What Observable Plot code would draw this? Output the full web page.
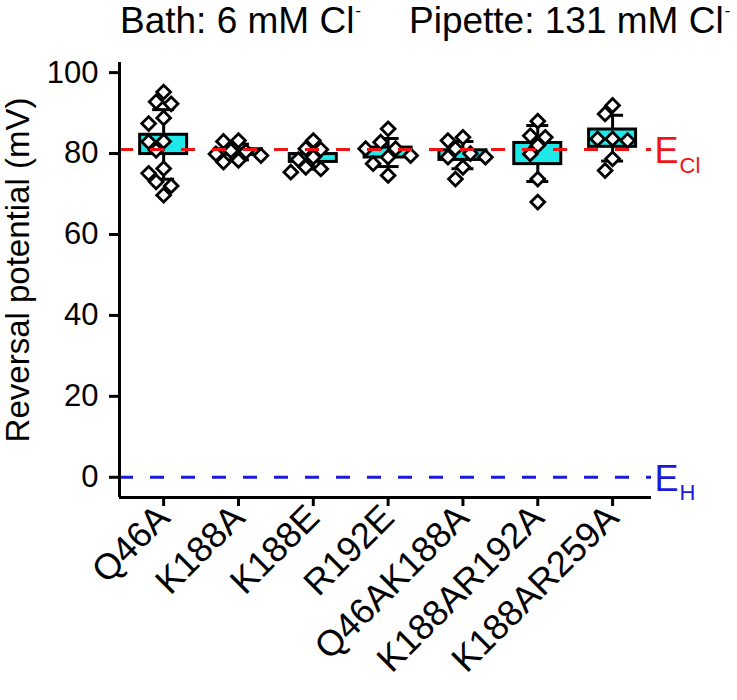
<!DOCTYPE html>
<html><head><meta charset="utf-8">
<script src="https://cdn.jsdelivr.net/npm/d3@7"></script>
<script src="https://cdn.jsdelivr.net/npm/@observablehq/plot@0.6"></script>
<style>
body{margin:0;background:#fff;font-family:"Liberation Sans",Arial,sans-serif;}
#title{position:relative;width:737px;height:45px;font-size:37px;color:#000;}
#title span{position:absolute;top:2px;white-space:nowrap;line-height:1;}
#title sup{font-size:0.45em;line-height:0;vertical-align:1.05em;margin-left:1px;}
</style></head>
<body>
<div id="title"><span style="left:120px">Bath: 6 mM Cl<sup>-</sup></span><span style="left:409px">Pipette: 131 mM Cl<sup>-</sup></span></div>
<div id="chart"></div>
<script>
// ---- data ----
const categories = ["Q46A","K188A","K188E","R192E","Q46AK188A","K188AR192A","K188AR259A"];
const q46a       = [95.2, 92.8, 92.3, 88.8, 87.4, 83.0, 82.9, 80.8, 76.3, 75.1, 73.0, 72.0, 69.7];
const k188a      = [83.2, 83.0, 80.7, 80.5, 79.9, 79.5, 78.3, 77.9];
const k188e      = [83.2, 81.2, 81.0, 79.1, 78.5, 76.6, 76.2, 75.4];
const r192e      = [86.1, 82.8, 81.2, 81.2, 79.5, 79.1, 77.5, 74.6];
const q46ak188a  = [84.0, 83.2, 81.2, 80.0, 79.1, 79.1, 76.6, 73.7];
const k188ar192a = [88.0, 84.4, 84.0, 82.0, 79.9, 73.7, 68.0];
const k188ar259a = [91.9, 89.8, 83.6, 83.6, 83.2, 78.7, 75.8];
const yTicks = [0, 20, 40, 60, 80, 100];
const E_Cl = 81;
const E_H = 0;

// ---- layout ----
const W = 737, H = 655, mL = 119, mR = 86, mT = 17, mB = 203;
const xDomain = [-0.59, 6.52], yDomain = [-5, 102.5];
const pxX = (W - mL - mR) / (xDomain[1] - xDomain[0]);
const pxY = (H - mT - mB) / (yDomain[1] - yDomain[0]);
const red = "#f01414", blue = "#1a1ad8", cyan = "#1fe8e8";

const seriesList = [q46a, k188a, k188e, r192e, q46ak188a, k188ar192a, k188ar259a];

// stats: mean, SD, SEM
const stats = seriesList.map((vals, i) => {
  const mean = d3.mean(vals), sd = d3.deviation(vals);
  return {i, mean, sd, sem: sd / Math.sqrt(vals.length)};
});

// simple beeswarm (diamond L1 distance) in pixel space
const slotPx = 7.5, minDist = 15;
const points = [];
seriesList.forEach((vals, i) => {
  const placed = [];
  const order = [0, -1, 1, -2, 2, -3, 3, -4, 4];
  [...vals].sort((a, b) => b - a).forEach(v => {
    let chosen = 0;
    for (const k of order) {
      const ok = placed.every(p => Math.abs(p.k - k) * slotPx + Math.abs(p.v - v) * pxY >= minDist);
      if (ok) { chosen = k; break; }
    }
    placed.push({k: chosen, v});
    points.push({x: i + chosen * slotPx / pxX, y: v});
  });
});

const capHalf = 11 / pxX, boxHalf = 23.5 / pxX;

const chart = Plot.plot({
  width: W, height: H,
  marginLeft: mL, marginRight: mR, marginTop: mT, marginBottom: mB,
  style: {fontFamily: "'Liberation Sans', Arial, sans-serif", background: "white", overflow: "visible", color: "black"},
  x: {type: "linear", domain: xDomain},
  y: {domain: yDomain},
  marks: [
    // whiskers (mean ± SD)
    Plot.ruleX(stats, {x: "i", y1: d => d.mean - d.sd, y2: d => d.mean + d.sd, stroke: "black", strokeWidth: 3}),
    Plot.ruleY(stats, {y: d => d.mean + d.sd, x1: d => d.i - capHalf, x2: d => d.i + capHalf, stroke: "black", strokeWidth: 3}),
    Plot.ruleY(stats, {y: d => d.mean - d.sd, x1: d => d.i - capHalf, x2: d => d.i + capHalf, stroke: "black", strokeWidth: 3}),
    // box (mean ± SEM)
    Plot.rect(stats, {x1: d => d.i - boxHalf, x2: d => d.i + boxHalf, y1: d => d.mean - d.sem, y2: d => d.mean + d.sem, fill: cyan, stroke: "black", strokeWidth: 3}),
    // individual points
    Plot.dot(points, {x: "x", y: "y", symbol: "diamond2", r: 6.2, fill: "white", stroke: "black", strokeWidth: 2.8}),
    // reference lines
    Plot.ruleY([E_Cl], {stroke: red, strokeWidth: 3, strokeDasharray: "14,17"}),
    Plot.ruleY([E_H], {stroke: blue, strokeWidth: 3, strokeDasharray: "14,17"}),
    Plot.text([E_Cl], {y: d => d, frameAnchor: "right", text: () => "E", textAnchor: "start", dx: 3, dy: 2, fill: red, fontSize: 36}),
    Plot.text([E_Cl], {y: d => d, frameAnchor: "right", text: () => "Cl", textAnchor: "start", dx: 28, dy: 16, fill: red, fontSize: 22}),
    Plot.text([E_H], {y: d => d, frameAnchor: "right", text: () => "E", textAnchor: "start", dx: 3, dy: 2, fill: blue, fontSize: 36}),
    Plot.text([E_H], {y: d => d, frameAnchor: "right", text: () => "H", textAnchor: "start", dx: 28, dy: 16, fill: blue, fontSize: 22}),
    // axis lines
    Plot.ruleY([yDomain[0]], {stroke: "black", strokeWidth: 3}),
    Plot.ruleX([xDomain[0]], {stroke: "black", strokeWidth: 3}),
    // axes
    Plot.axisY({ticks: yTicks, tickSize: 10, tickPadding: 11, fontSize: 31, strokeWidth: 3, label: null}),
    Plot.axisX({ticks: d3.range(categories.length), tickFormat: i => categories[i], tickRotate: -45, tickSize: 9, tickPadding: 5, fontSize: 36, strokeWidth: 3, label: null}),
    Plot.text(["Reversal potential (mV)"], {frameAnchor: "left", textAnchor: "middle", rotate: -90, dx: -101, dy: -10, fontSize: 33, fill: "black"})
  ]
});
document.getElementById("chart").appendChild(chart);
</script>
</body></html>
